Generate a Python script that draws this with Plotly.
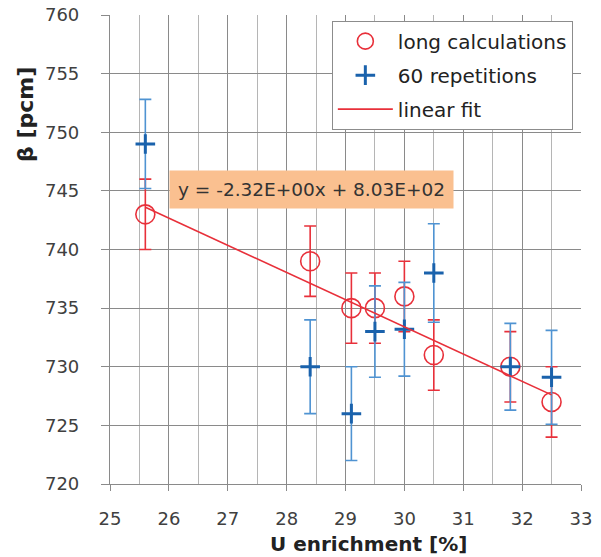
import plotly.graph_objects as go

# Long calculations (red circles)
long_x = [25.6, 28.4, 29.1, 29.5, 30.0, 30.5, 31.8, 32.5]
long_y = [743, 739, 735, 735, 736, 731, 730, 727]
long_err = [3, 3, 3, 3, 3, 3, 3, 3]

# 60 repetitions (blue crosses)
rep_x = [25.6, 28.4, 29.1, 29.5, 30.0, 30.5, 31.8, 32.5]
rep_y = [749, 730, 726, 733, 733.2, 738, 730, 729.1]
rep_err = [3.8, 4, 4, 3.9, 4, 4.2, 3.7, 4]

# Linear fit endpoints
fit_x = [25.6, 32.5]
fit_y = [743.6, 727.6]

x_ticks = [25, 26, 27, 28, 29, 30, 31, 32, 33]
y_ticks = [720, 725, 730, 735, 740, 745, 750, 755, 760]

RED = "#E8303A"
BLUE_M = "#1A62AC"
BLUE_E = "#4F93D2"
FONT = "DejaVu Sans"

fig = go.Figure()
fig.add_trace(go.Scatter(
    x=long_x, y=long_y, mode="markers", name="long calculations",
    legendgroup="a",
    marker=dict(symbol="circle-open", size=19, color=RED, line=dict(width=1.6, color=RED)),
    error_y=dict(type="data", array=long_err, color=RED, thickness=1.6, width=6),
))
fig.add_trace(go.Scatter(
    x=rep_x, y=rep_y, mode="markers", name="60 repetitions",
    legendgroup="b",
    marker=dict(symbol="cross-thin-open", size=14, color=BLUE_M, line=dict(width=3, color=BLUE_M)),
    error_y=dict(type="data", array=rep_err, color=BLUE_E, thickness=1.6, width=6),
))
fig.add_trace(go.Scatter(
    x=fit_x, y=fit_y, mode="lines", name="linear fit",
    legendgroup="c",
    line=dict(color=RED, width=1.6),
))

fig.update_layout(
    width=601, height=557,
    margin=dict(l=110, r=20, t=15, b=73),
    paper_bgcolor="white", plot_bgcolor="white",
    font=dict(family=FONT, size=18, color="#404040"),
    showlegend=True,
    legend=dict(
        x=0.471, y=0.988, xanchor="left", yanchor="top",
        bgcolor="white", bordercolor="#8c8c8c", borderwidth=1,
        font=dict(family=FONT, size=20, color="#222222"),
        tracegroupgap=5, itemwidth=55,
    ),
    xaxis=dict(
        range=[25, 33], tickvals=x_ticks, ticktext=[str(v) for v in x_ticks],
        showgrid=True, gridcolor="#8a8a8a", gridwidth=1.2,
        minor=dict(dtick=0.5, tick0=25, showgrid=True, gridcolor="#b5b5b5", gridwidth=1),
        showline=True, linecolor="#8a8a8a", linewidth=1.2,
        ticks="outside", ticklen=6, tickcolor="#8a8a8a",
        ticklabelstandoff=12, automargin=False,
        zeroline=False,
    ),
    yaxis=dict(
        range=[720, 760], tickvals=y_ticks, ticktext=[str(v) for v in y_ticks],
        showgrid=True, gridcolor="#8a8a8a", gridwidth=1.2,
        showline=True, linecolor="#8a8a8a", linewidth=1.2,
        ticks="outside", ticklen=8, tickcolor="#8a8a8a",
        ticklabelstandoff=18, automargin=False,
        zeroline=False,
    ),
    annotations=[
        dict(text="y = -2.32E+00x + 8.03E+02", x=(311 - 110) / 471, y=(484 - 189) / 469,
             xref="paper", yref="paper", xanchor="center", yanchor="middle",
             showarrow=False, bgcolor="#FAC090", borderpad=8,
             font=dict(family=FONT, size=18.5, color="#333333")),
        dict(text="<b>U enrichment [%]</b>", x=(368 - 110) / 471, y=-(544 - 484) / 469,
             xref="paper", yref="paper", showarrow=False, xanchor="center", yanchor="middle",
             font=dict(family=FONT, size=20, color="#222222")),
        dict(text="<b>β [pcm]</b>", x=(25 - 110) / 471, y=(484 - 115) / 469,
             xref="paper", yref="paper", showarrow=False, textangle=-90,
             xanchor="center", yanchor="middle",
             font=dict(family=FONT, size=22, color="#222222")),
    ],
)

fig.write_html("out.html")
